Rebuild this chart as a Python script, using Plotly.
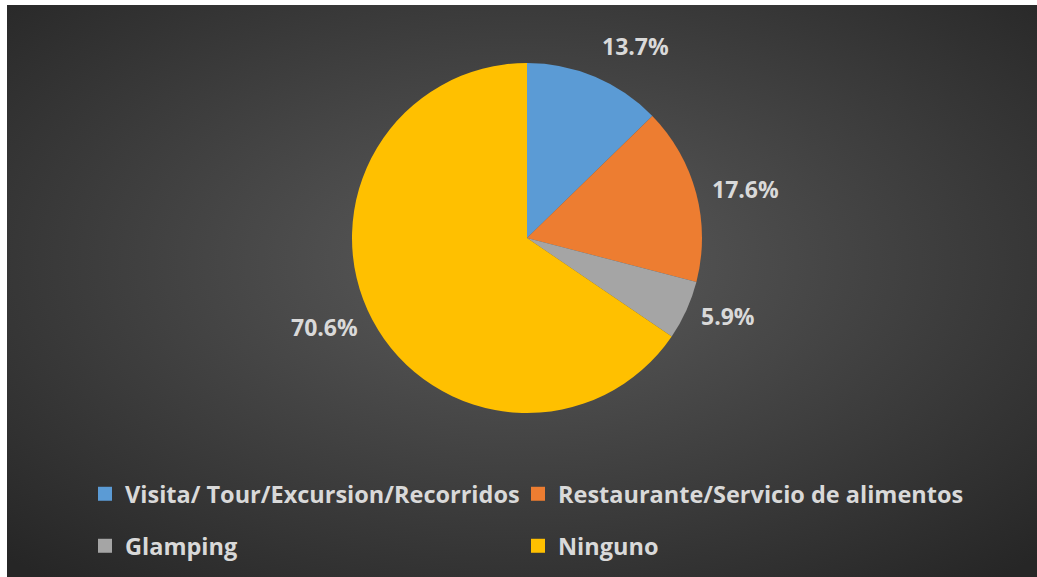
import base64, math
import plotly.graph_objects as go

categories = ["Visita/ Tour/Excursion/Recorridos", "Restaurante/Servicio de alimentos", "Glamping", "Ninguno"]
values = [13.7, 17.6, 5.9, 70.6]
label_texts = ["13.7%", "17.6%", "5.9%", "70.6%"]
colors = ["#5B9BD5", "#ED7D31", "#A5A5A5", "#FFC000"]

W, H = 1037, 577
CX, CY, R = 527, 238, 175  # pie centre / radius in page pixels
TXT = "#D9D9D9"
FONT = "Open Sans"

def px_x(x):
    return x / W

def px_y(y):
    return 1 - y / H

fig = go.Figure()
fig.add_trace(go.Pie(
    labels=categories, values=values, sort=False, direction="clockwise", rotation=0,
    marker=dict(colors=colors, line=dict(width=0)), textinfo="none", hoverinfo="label+value",
    showlegend=False,
    domain=dict(x=[px_x(CX - R), px_x(CX + R)], y=[px_y(CY + R), px_y(CY - R)]),
))

# legend entries: 2 x 2 grid, one legend per entry
legend_names = ["legend", "legend2", "legend3", "legend4"]
for i, (c, col) in enumerate(zip(categories, colors)):
    fig.add_trace(go.Scatter(
        x=[None], y=[None], mode="markers", name=c,
        marker=dict(symbol="square", size=14, color=col),
        legend=legend_names[i],
    ))

# data labels placed from slice angles
total = sum(values)
cum = 0
D = 190
for v, t in zip(values, label_texts):
    mid = (cum + v / 2) / total * 2 * math.pi
    cum += v
    s, c = math.sin(mid), math.cos(mid)
    x = CX + D * s
    y = CY - D * c
    xa = "left" if s > 0 else "right"
    ya = "bottom" if c > 0.7 else ("top" if c < -0.7 else "middle")
    fig.add_annotation(x=px_x(x), y=px_y(y), xref="paper", yref="paper", text=t,
                       showarrow=False, xanchor=xa, yanchor=ya, borderpad=0,
                       font=dict(family=FONT, size=23, color=TXT, weight="bold"))

gw, gh = W - 7, H - 5
svg = (f'<svg xmlns="http://www.w3.org/2000/svg" width="{gw}" height="{gh}" viewBox="0 0 {gw} {gh}" preserveAspectRatio="none">'
       '<defs><radialGradient id="g" cx="0.5" cy="0.45" r="0.72">'
       '<stop offset="0" stop-color="#5c5c5c"/><stop offset="1" stop-color="#262626"/>'
       '</radialGradient></defs>'
       f'<rect width="{gw}" height="{gh}" fill="url(#g)"/></svg>')
src = "data:image/svg+xml;base64," + base64.b64encode(svg.encode()).decode()

legend_common = dict(orientation="h", bgcolor="rgba(0,0,0,0)",
                     font=dict(family=FONT, size=23.5, color=TXT, weight="bold"),
                     xanchor="left", yanchor="middle", itemclick=False)
col_x = [85, 518]
row_y = [494, 546]
legend_layout = {}
for i, ln in enumerate(legend_names):
    legend_layout[ln] = dict(x=px_x(col_x[i % 2]), y=px_y(row_y[i // 2]), **legend_common)

fig.update_layout(
    width=W, height=H, margin=dict(l=0, r=0, t=0, b=0),
    paper_bgcolor="white", plot_bgcolor="rgba(0,0,0,0)",
    xaxis=dict(visible=False), yaxis=dict(visible=False),
    images=[dict(source=src, xref="paper", yref="paper", x=7 / W, y=1 - 5 / H,
                 sizex=1 - 7 / W, sizey=1 - 5 / H, xanchor="left", yanchor="top",
                 sizing="stretch", layer="below")],
    **legend_layout,
)

fig.write_html("out.html", config={"displayModeBar": False},
               post_script="document.body.style.margin='0';document.body.style.overflow='hidden';")
